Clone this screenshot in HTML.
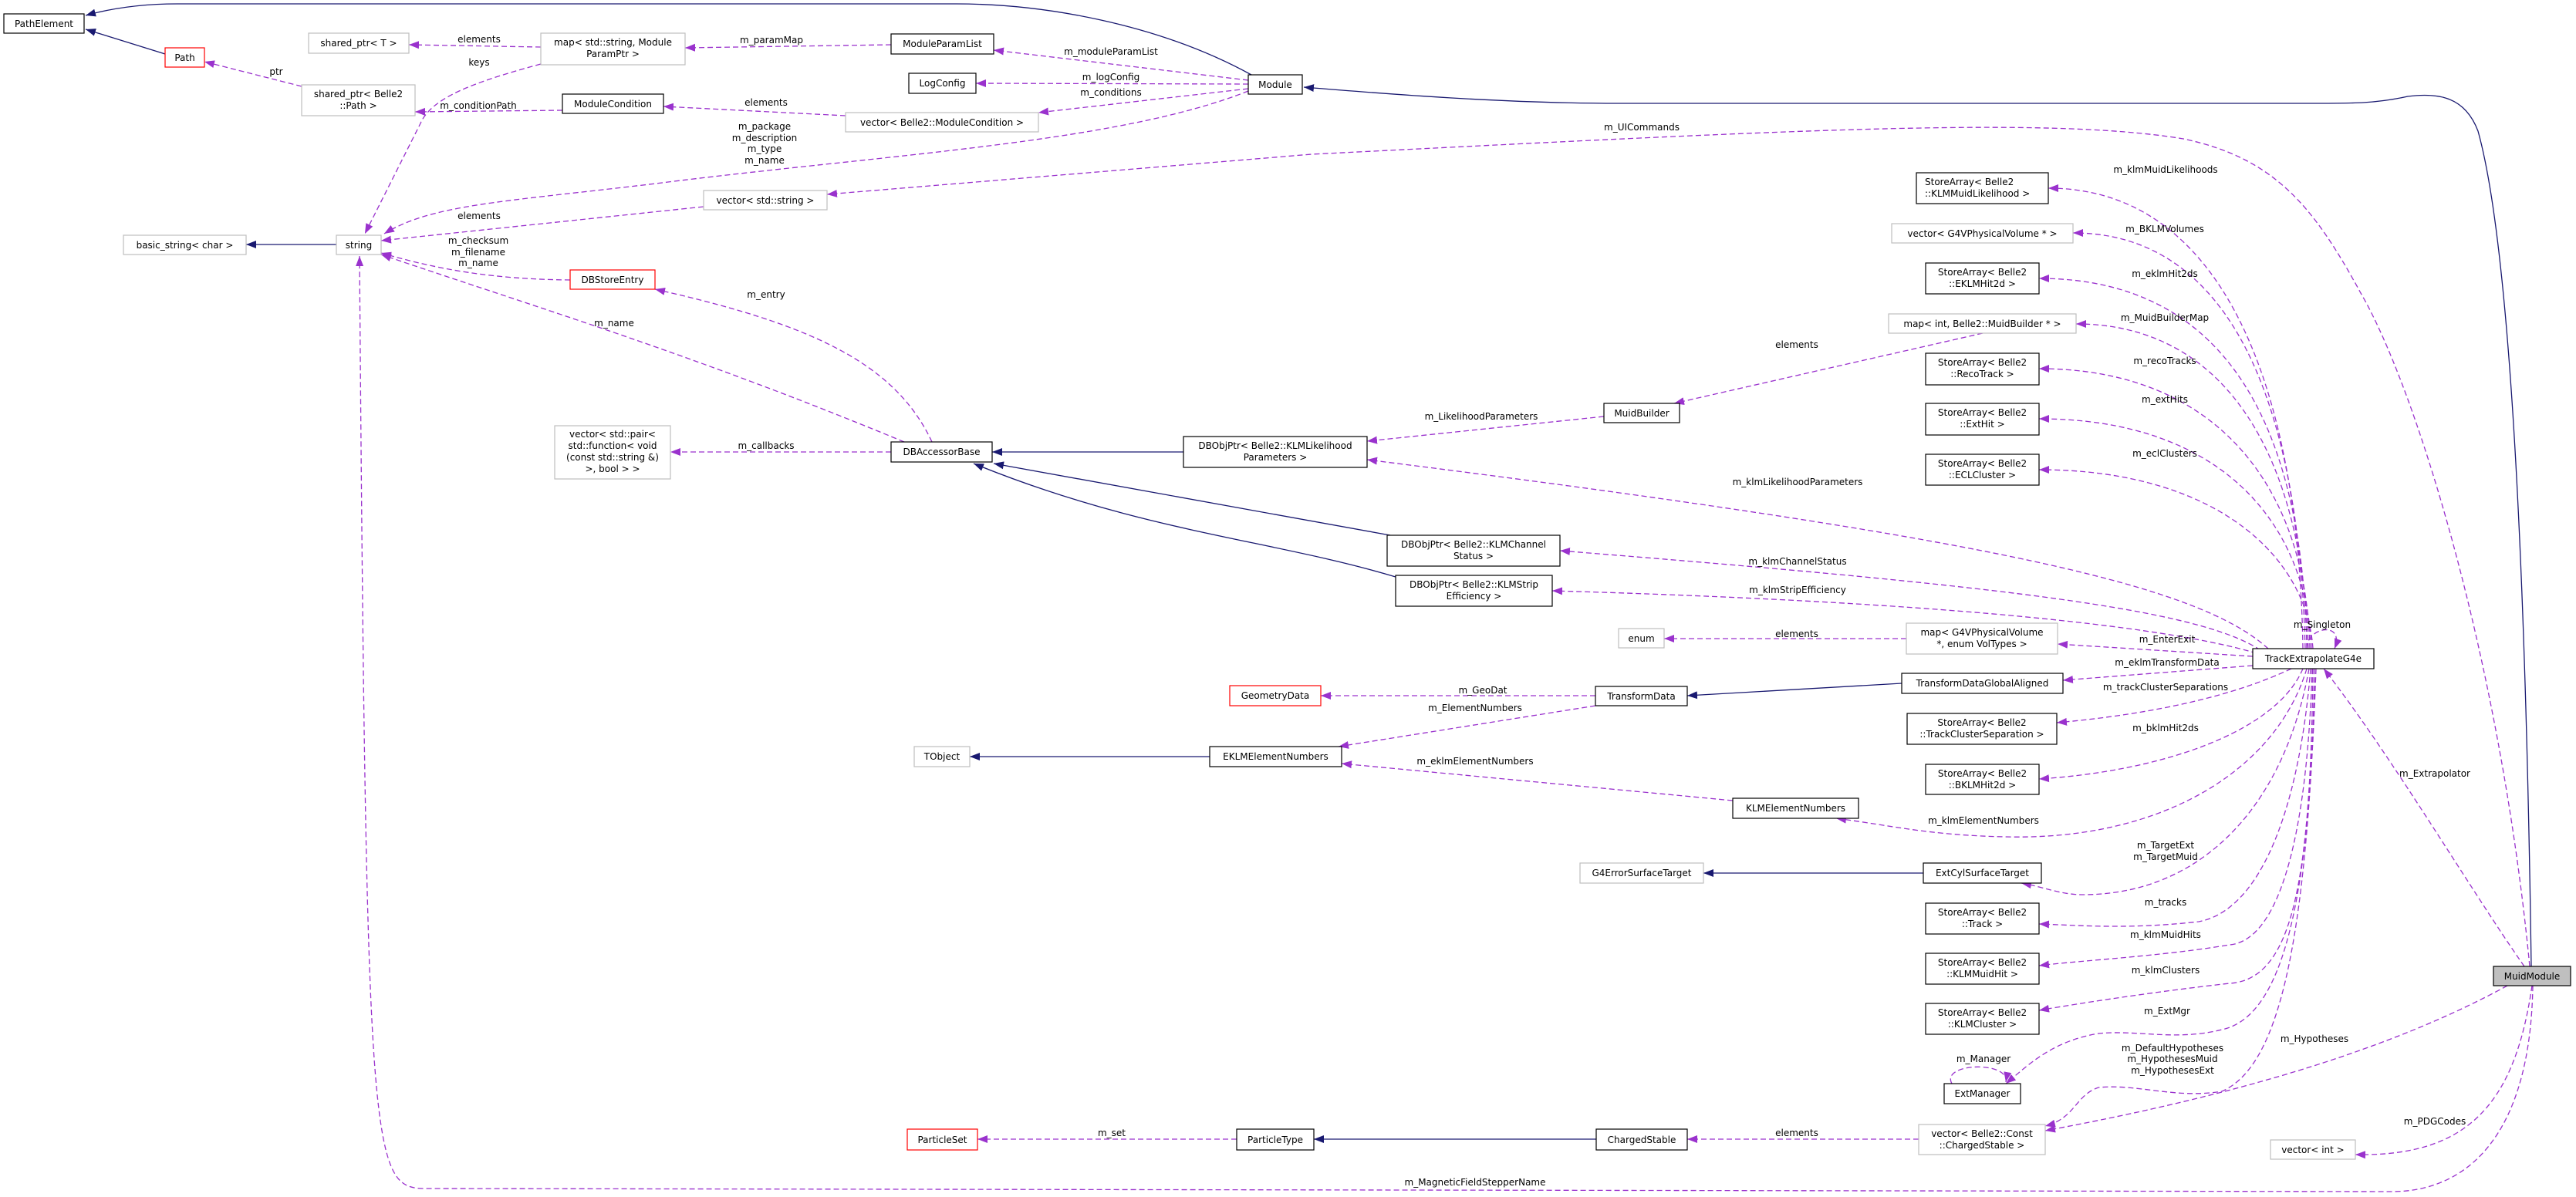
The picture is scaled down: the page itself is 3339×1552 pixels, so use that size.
<!DOCTYPE html>
<html><head><meta charset="utf-8"><style>
html,body{margin:0;padding:0;background:#fff}
svg{display:block}
text{font-family:"DejaVu Sans","Liberation Sans",sans-serif;font-size:12px;fill:#000}
.b{fill:#fff;stroke:#000;stroke-width:1.2}
.g{fill:#fff;stroke:#bfbfbf;stroke-width:1.2}
.r{fill:#fff;stroke:#ff0000;stroke-width:1.2}
.s{fill:none;stroke:#191970;stroke-width:1.3}
.d{fill:none;stroke:#9a32cd;stroke-width:1.3;stroke-dasharray:7,4}
</style></head><body>
<svg width="3339" height="1552" viewBox="0 0 3339 1552" xmlns="http://www.w3.org/2000/svg">
<defs>
<marker id="an" markerUnits="userSpaceOnUse" markerWidth="14" markerHeight="12" refX="13" refY="6" orient="auto"><path d="M0,1 L13,6 L0,11 z" fill="#191970"/></marker>
<marker id="ap" markerUnits="userSpaceOnUse" markerWidth="14" markerHeight="12" refX="13" refY="6" orient="auto"><path d="M0,1 L13,6 L0,11 z" fill="#9a32cd"/></marker>
</defs>

<!-- solid inheritance edges -->
<g class="s" marker-end="url(#an)">
<path d="M214,70 L111,38"/>
<path d="M1622,97 C1500,30 1350,5 1240,5 L230,5 C180,5 140,12 111,20"/>
<path d="M3281,1253 C3276,900 3262,350 3212,170 C3195,125 3160,120 3121,125 C3080,134 3050,134 3006,134 L2097,134 C1950,134 1800,122 1690,113"/>
<path d="M436,317 L319,317"/>
<path d="M1534,586 L1286,586"/>
<path d="M1802,694 L1288,601"/>
<path d="M1809,748 C1650,700 1480,690 1262,601"/>
<path d="M2465,886 L2187,902"/>
<path d="M1568,981 L1257,981"/>
<path d="M2493,1132 L2208,1132"/>
<path d="M2069,1477 L1703,1477"/>
</g>

<!-- dashed association edges -->
<g class="d" marker-end="url(#ap)">
<path d="M391,112 L265,80"/>
<path d="M701,61 L530,58"/>
<path d="M701,83 C620,105 560,125 545,160 L473,303"/>
<path d="M729,143 L538,145"/>
<path d="M1155,58 L888,62"/>
<path d="M1618,104 L1288,65"/>
<path d="M1618,109 L1265,108"/>
<path d="M1618,115 L1346,146"/>
<path d="M1096,150 L860,138"/>
<path d="M1618,118 C1450,185 1150,200 850,238 C650,262 560,265 498,303"/>
<path d="M3279,1253 C3240,850 3130,500 3060,380 C3000,270 2950,205 2830,180 C2650,150 2300,170 1700,200 L1072,252"/>
<path d="M912,268 L494,312"/>
<path d="M739,363 C640,362 570,350 494,328"/>
<path d="M1172,573 C900,460 700,400 494,330"/>
<path d="M1208,573 C1160,470 1050,420 849,375"/>
<path d="M1155,586 L869,586"/>
<path d="M2079,540 L1772,572"/>
<path d="M2570,432 L2170,523"/>
<path d="M2985,841 C2980,500 2880,244 2655,244"/>
<path d="M2988,841 C2980,520 2890,302 2687,302"/>
<path d="M2990,841 C2985,560 2890,361 2643,361"/>
<path d="M2992,841 C2985,600 2890,420 2691,420"/>
<path d="M2994,841 C2990,640 2880,478 2643,478"/>
<path d="M2996,841 C2990,680 2880,543 2643,543"/>
<path d="M2998,841 C2990,720 2870,609 2643,609"/>
<path d="M2940,841 C2850,760 2600,700 1772,596"/>
<path d="M2930,843 C2850,790 2600,760 2022,714"/>
<path d="M2925,847 C2800,810 2500,780 2012,766"/>
<path d="M2920,851 L2667,835"/>
<path d="M2920,863 L2674,882"/>
<path d="M2970,867 C2900,900 2800,925 2666,937"/>
<path d="M2985,867 C2950,950 2800,1000 2643,1010"/>
<path d="M2990,867 C2950,1000 2800,1090 2600,1085 C2500,1083 2450,1070 2380,1061"/>
<path d="M2993,867 C2960,1050 2850,1160 2700,1160 C2670,1160 2650,1150 2620,1145"/>
<path d="M2995,867 C2980,1050 2930,1180 2850,1195 C2760,1205 2700,1200 2643,1198"/>
<path d="M2997,867 C2990,1100 2950,1220 2890,1225 C2800,1240 2700,1245 2643,1252"/>
<path d="M2998,867 C2995,1150 2970,1270 2890,1275 C2800,1285 2700,1300 2643,1310"/>
<path d="M3000,867 C2995,1200 2950,1320 2880,1335 C2820,1350 2770,1335 2720,1340 C2660,1350 2630,1380 2600,1405"/>
<path d="M3002,867 C2990,1200 2960,1380 2880,1415 C2820,1425 2770,1405 2720,1410 C2690,1420 2690,1450 2651,1460"/>
<path d="M2990,841 C2990,812 3040,805 3026,841" />
<path d="M3272,1253 C3200,1150 3100,980 3012,867"/>
<path d="M3250,1278 C3100,1360 2900,1420 2651,1466"/>
<path d="M3282,1278 C3260,1430 3200,1500 3053,1497"/>
<path d="M3283,1278 C3280,1470 3200,1545 3100,1545 L550,1541 C480,1540 475,1500 466,332"/>
<path d="M2530,1405 C2515,1378 2605,1375 2600,1403"/>
<path d="M2487,1477 L2187,1477"/>
<path d="M1603,1477 L1267,1477"/>
<path d="M2068,902 L1712,902"/>
<path d="M2068,915 L1735,968"/>
<path d="M2246,1038 L1739,990"/>
<path d="M2471,828 L2157,828"/>
</g>

<!-- nodes -->
<rect class="b" x="5" y="18" width="104" height="25"/><text x="57" y="35" text-anchor="middle">PathElement</text>
<rect class="r" x="214" y="62" width="51" height="25"/><text x="239.5" y="79" text-anchor="middle">Path</text>
<rect class="g" x="400" y="43" width="130" height="26"/><text x="465" y="60" text-anchor="middle">shared_ptr&lt; T &gt;</text>
<rect class="g" x="701" y="43" width="187" height="41"/><text x="794.5" y="59" text-anchor="middle">map&lt; std::string, Module</text><text x="794.5" y="74" text-anchor="middle">ParamPtr &gt;</text>
<rect class="g" x="391" y="110" width="147" height="40"/><text x="464.5" y="126" text-anchor="middle">shared_ptr&lt; Belle2</text><text x="464.5" y="141" text-anchor="middle">::Path &gt;</text>
<rect class="b" x="729" y="122" width="131" height="25"/><text x="794.5" y="139" text-anchor="middle">ModuleCondition</text>
<rect class="g" x="160" y="305" width="159" height="25"/><text x="239.5" y="322" text-anchor="middle">basic_string&lt; char &gt;</text>
<rect class="g" x="436" y="305" width="58" height="25"/><text x="465" y="322" text-anchor="middle">string</text>
<rect class="r" x="739" y="350" width="110" height="25"/><text x="794" y="367" text-anchor="middle">DBStoreEntry</text>
<rect class="b" x="1155" y="44" width="133" height="26"/><text x="1221.5" y="61" text-anchor="middle">ModuleParamList</text>
<rect class="b" x="1178" y="95" width="87" height="26"/><text x="1221.5" y="112" text-anchor="middle">LogConfig</text>
<rect class="b" x="1618" y="97" width="70" height="25"/><text x="1653" y="114" text-anchor="middle">Module</text>
<rect class="g" x="1096" y="146" width="250" height="25"/><text x="1221" y="163" text-anchor="middle">vector&lt; Belle2::ModuleCondition &gt;</text>
<rect class="g" x="912" y="247" width="160" height="25"/><text x="992" y="264" text-anchor="middle">vector&lt; std::string &gt;</text>
<rect class="g" x="719" y="552" width="150" height="69"/><text x="794" y="567" text-anchor="middle">vector&lt; std::pair&lt;</text><text x="794" y="582" text-anchor="middle">std::function&lt; void</text><text x="794" y="597" text-anchor="middle">(const std::string &amp;)</text><text x="794" y="612" text-anchor="middle">&gt;, bool &gt; &gt;</text>
<rect class="b" x="1155" y="573" width="131" height="26"/><text x="1220.5" y="590" text-anchor="middle">DBAccessorBase</text>
<rect class="b" x="1534" y="566" width="238" height="40"/><text x="1653" y="582" text-anchor="middle">DBObjPtr&lt; Belle2::KLMLikelihood</text><text x="1653" y="597" text-anchor="middle">Parameters &gt;</text>
<rect class="b" x="1798" y="694" width="224" height="40"/><text x="1910" y="710" text-anchor="middle">DBObjPtr&lt; Belle2::KLMChannel</text><text x="1910" y="725" text-anchor="middle">Status &gt;</text>
<rect class="b" x="1809" y="746" width="203" height="40"/><text x="1910.5" y="762" text-anchor="middle">DBObjPtr&lt; Belle2::KLMStrip</text><text x="1910.5" y="777" text-anchor="middle">Efficiency &gt;</text>
<rect class="b" x="2079" y="523" width="98" height="25"/><text x="2128" y="540" text-anchor="middle">MuidBuilder</text>
<rect class="r" x="1594" y="889" width="118" height="26"/><text x="1653" y="906" text-anchor="middle">GeometryData</text>
<rect class="b" x="2068" y="890" width="119" height="25"/><text x="2127.5" y="907" text-anchor="middle">TransformData</text>
<rect class="g" x="2098" y="815" width="59" height="25"/><text x="2127.5" y="832" text-anchor="middle">enum</text>
<rect class="g" x="1185" y="968" width="72" height="26"/><text x="1221" y="985" text-anchor="middle">TObject</text>
<rect class="b" x="1568" y="968" width="171" height="26"/><text x="1653.5" y="985" text-anchor="middle">EKLMElementNumbers</text>
<rect class="b" x="2246" y="1035" width="163" height="26"/><text x="2327.5" y="1052" text-anchor="middle">KLMElementNumbers</text>
<rect class="g" x="2048" y="1119" width="160" height="26"/><text x="2128" y="1136" text-anchor="middle">G4ErrorSurfaceTarget</text>
<rect class="r" x="1176" y="1464" width="91" height="27"/><text x="1221.5" y="1482" text-anchor="middle">ParticleSet</text>
<rect class="b" x="1603" y="1464" width="100" height="27"/><text x="1653" y="1482" text-anchor="middle">ParticleType</text>
<rect class="b" x="2069" y="1464" width="118" height="27"/><text x="2128" y="1482" text-anchor="middle">ChargedStable</text>
<rect class="b" x="2484" y="224" width="171" height="40"/><text x="2495" y="240">StoreArray&lt; Belle2</text><text x="2495" y="255">::KLMMuidLikelihood &gt;</text>
<rect class="g" x="2452" y="290" width="235" height="25"/><text x="2569.5" y="307" text-anchor="middle">vector&lt; G4VPhysicalVolume * &gt;</text>
<rect class="b" x="2496" y="341" width="147" height="40"/><text x="2569.5" y="357" text-anchor="middle">StoreArray&lt; Belle2</text><text x="2569.5" y="372" text-anchor="middle">::EKLMHit2d &gt;</text>
<rect class="g" x="2448" y="407" width="243" height="25"/><text x="2569.5" y="424" text-anchor="middle">map&lt; int, Belle2::MuidBuilder * &gt;</text>
<rect class="b" x="2496" y="458" width="147" height="41"/><text x="2569.5" y="474" text-anchor="middle">StoreArray&lt; Belle2</text><text x="2569.5" y="489" text-anchor="middle">::RecoTrack &gt;</text>
<rect class="b" x="2496" y="523" width="147" height="41"/><text x="2569.5" y="539" text-anchor="middle">StoreArray&lt; Belle2</text><text x="2569.5" y="554" text-anchor="middle">::ExtHit &gt;</text>
<rect class="b" x="2496" y="589" width="147" height="40"/><text x="2569.5" y="605" text-anchor="middle">StoreArray&lt; Belle2</text><text x="2569.5" y="620" text-anchor="middle">::ECLCluster &gt;</text>
<rect class="g" x="2471" y="808" width="196" height="40"/><text x="2569" y="824" text-anchor="middle">map&lt; G4VPhysicalVolume</text><text x="2569" y="839" text-anchor="middle">*, enum VolTypes &gt;</text>
<rect class="b" x="2920" y="841" width="157" height="26"/><text x="2998.5" y="858" text-anchor="middle">TrackExtrapolateG4e</text>
<rect class="b" x="2465" y="873" width="209" height="26"/><text x="2569.5" y="890" text-anchor="middle">TransformDataGlobalAligned</text>
<rect class="b" x="2472" y="925" width="194" height="40"/><text x="2569" y="941" text-anchor="middle">StoreArray&lt; Belle2</text><text x="2569" y="956" text-anchor="middle">::TrackClusterSeparation &gt;</text>
<rect class="b" x="2496" y="991" width="147" height="39"/><text x="2569.5" y="1007" text-anchor="middle">StoreArray&lt; Belle2</text><text x="2569.5" y="1022" text-anchor="middle">::BKLMHit2d &gt;</text>
<rect class="b" x="2493" y="1119" width="153" height="26"/><text x="2569.5" y="1136" text-anchor="middle">ExtCylSurfaceTarget</text>
<rect class="b" x="2496" y="1171" width="147" height="40"/><text x="2569.5" y="1187" text-anchor="middle">StoreArray&lt; Belle2</text><text x="2569.5" y="1202" text-anchor="middle">::Track &gt;</text>
<rect class="b" x="2496" y="1236" width="147" height="40"/><text x="2569.5" y="1252" text-anchor="middle">StoreArray&lt; Belle2</text><text x="2569.5" y="1267" text-anchor="middle">::KLMMuidHit &gt;</text>
<rect class="b" x="2496" y="1301" width="147" height="40"/><text x="2569.5" y="1317" text-anchor="middle">StoreArray&lt; Belle2</text><text x="2569.5" y="1332" text-anchor="middle">::KLMCluster &gt;</text>
<rect class="b" x="2520" y="1405" width="99" height="26"/><text x="2569.5" y="1422" text-anchor="middle">ExtManager</text>
<rect class="g" x="2487" y="1458" width="164" height="39"/><text x="2569" y="1474" text-anchor="middle">vector&lt; Belle2::Const</text><text x="2569" y="1489" text-anchor="middle">::ChargedStable &gt;</text>
<rect x="3232" y="1253" width="100" height="25" fill="#bfbfbf" stroke="#000" stroke-width="1.2"/><text x="3282" y="1270" text-anchor="middle">MuidModule</text>
<rect class="g" x="2943" y="1478" width="110" height="25"/><text x="2998" y="1495" text-anchor="middle">vector&lt; int &gt;</text>

<!-- edge labels -->
<g text-anchor="middle">
<text x="358" y="97">ptr</text>
<text x="621" y="55">elements</text>
<text x="621" y="85">keys</text>
<text x="620" y="141">m_conditionPath</text>
<text x="1000" y="56">m_paramMap</text>
<text x="1440" y="71">m_moduleParamList</text>
<text x="1440" y="104">m_logConfig</text>
<text x="1440" y="124">m_conditions</text>
<text x="993" y="137">elements</text>
<text x="991" y="168">m_package</text>
<text x="991" y="183">m_description</text>
<text x="991" y="197">m_type</text>
<text x="991" y="212">m_name</text>
<text x="2128" y="169">m_UICommands</text>
<text x="621" y="284">elements</text>
<text x="620" y="316">m_checksum</text>
<text x="620" y="331">m_filename</text>
<text x="620" y="345">m_name</text>
<text x="796" y="423">m_name</text>
<text x="993" y="386">m_entry</text>
<text x="993" y="582">m_callbacks</text>
<text x="1920" y="544">m_LikelihoodParameters</text>
<text x="2329" y="451">elements</text>
<text x="2807" y="224">m_klmMuidLikelihoods</text>
<text x="2806" y="301">m_BKLMVolumes</text>
<text x="2806" y="359">m_eklmHit2ds</text>
<text x="2806" y="416">m_MuidBuilderMap</text>
<text x="2806" y="472">m_recoTracks</text>
<text x="2806" y="522">m_extHits</text>
<text x="2806" y="592">m_eclClusters</text>
<text x="2330" y="629">m_klmLikelihoodParameters</text>
<text x="2330" y="732">m_klmChannelStatus</text>
<text x="2330" y="769">m_klmStripEfficiency</text>
<text x="2329" y="826">elements</text>
<text x="3010" y="814">m_Singleton</text>
<text x="2809" y="833">m_EnterExit</text>
<text x="2809" y="863">m_eklmTransformData</text>
<text x="2807" y="895">m_trackClusterSeparations</text>
<text x="2807" y="948">m_bklmHit2ds</text>
<text x="3156" y="1007">m_Extrapolator</text>
<text x="2571" y="1068">m_klmElementNumbers</text>
<text x="2807" y="1100">m_TargetExt</text>
<text x="2807" y="1115">m_TargetMuid</text>
<text x="2807" y="1174">m_tracks</text>
<text x="2807" y="1216">m_klmMuidHits</text>
<text x="2807" y="1262">m_klmClusters</text>
<text x="2809" y="1315">m_ExtMgr</text>
<text x="3000" y="1351">m_Hypotheses</text>
<text x="2816" y="1363">m_DefaultHypotheses</text>
<text x="2816" y="1377">m_HypothesesMuid</text>
<text x="2816" y="1392">m_HypothesesExt</text>
<text x="2571" y="1377">m_Manager</text>
<text x="3156" y="1458">m_PDGCodes</text>
<text x="1922" y="899">m_GeoDat</text>
<text x="1912" y="922">m_ElementNumbers</text>
<text x="1912" y="991">m_eklmElementNumbers</text>
<text x="1441" y="1473">m_set</text>
<text x="2329" y="1473">elements</text>
<text x="1912" y="1537">m_MagneticFieldStepperName</text>
</g>
</svg>
</body></html>
